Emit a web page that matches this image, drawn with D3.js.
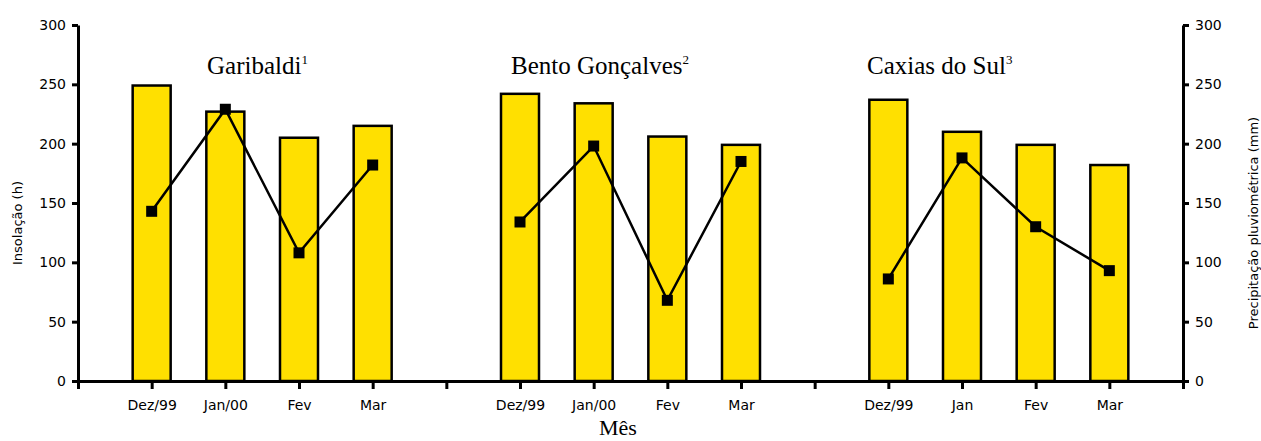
<!DOCTYPE html>
<html lang="pt">
<head>
  <meta charset="UTF-8" />
  <title>Insolação e precipitação</title>
  <script src="https://cdn.jsdelivr.net/npm/d3@7/dist/d3.min.js"></script>
  <style>
    body { margin: 0; background: #fff; }
    .axis text { font-family: "DejaVu Sans", sans-serif; font-size: 14px; fill: #000; }
    .axis path, .axis line { stroke: #000; stroke-width: 3; }
    .title { font-family: "Liberation Serif", serif; font-size: 25px; }
  </style>
</head>
<body>
  <div id="chart"></div>
  <script>
    // data
    var stations = ["Garibaldi", "Bento Gonçalves", "Caxias do Sul"];
    var notes = ["1", "2", "3"];
    var months = [
      ["Dez/99", "Jan/00", "Fev", "Mar"],
      ["Dez/99", "Jan/00", "Fev", "Mar"],
      ["Dez/99", "Jan", "Fev", "Mar"]
    ];
    var insolacao = [
      [249, 227, 205, 215],
      [242, 234, 206, 199],
      [237, 210, 199, 182]
    ];
    var precipitacao = [
      [143, 229, 108, 182],
      [134, 198, 68, 185],
      [86, 188, 130, 93]
    ];
    var yTicks = [0, 50, 100, 150, 200, 250, 300];

    var w = 1261, h = 441;
    var mLeft = 78, mRight = 1183, mTop = 25, mBottom = 381;
    var barW = 38;

    var svg = d3.select("#chart").append("svg")
      .attr("width", w)
      .attr("height", h);

    // 16 slots: a gap slot before each station, then its 4 months
    var x = d3.scaleLinear().domain([0, 15]).range([mLeft, mRight]);
    var yL = d3.scaleLinear().domain([0, 300]).range([mBottom, mTop]);
    var yR = d3.scaleLinear().domain([0, 300]).range([mBottom, mTop]);

    var flat = [];
    stations.forEach(function(s, si) {
      months[si].forEach(function(m, mi) {
        flat.push({
          station: si,
          slot: si * 5 + mi + 1,
          label: m,
          ins: insolacao[si][mi],
          prec: precipitacao[si][mi]
        });
      });
    });
    var labelBySlot = {};
    flat.forEach(function(d) { labelBySlot[d.slot] = d.label; });

    // bars
    svg.append("g").selectAll("rect")
      .data(flat)
      .enter()
      .append("rect")
      .attr("x", function(d) { return x(d.slot) - barW / 2; })
      .attr("y", function(d) { return yL(d.ins); })
      .attr("width", barW)
      .attr("height", function(d) { return yL(0) - yL(d.ins); })
      .attr("fill", "#ffe000")
      .attr("stroke", "#000")
      .attr("stroke-width", 2.5);

    // lines, one per station
    var line = d3.line()
      .x(function(d) { return x(d.slot); })
      .y(function(d) { return yR(d.prec); });

    stations.forEach(function(s, si) {
      var pts = flat.filter(function(d) { return d.station == si; });
      svg.append("path")
        .datum(pts)
        .attr("d", line)
        .attr("fill", "none")
        .attr("stroke", "#000")
        .attr("stroke-width", 2.5);
      svg.append("g").selectAll("rect")
        .data(pts)
        .enter()
        .append("rect")
        .attr("x", function(d) { return x(d.slot) - 5.5; })
        .attr("y", function(d) { return yR(d.prec) - 5.5; })
        .attr("width", 11)
        .attr("height", 11)
        .attr("fill", "#000");
    });

    // axes
    svg.append("g")
      .attr("class", "axis")
      .attr("transform", "translate(0," + mBottom + ")")
      .call(d3.axisBottom(x)
        .tickValues(d3.range(16))
        .tickSize(8)
        .tickSizeOuter(0)
        .tickPadding(11)
        .tickFormat(function(d) { return labelBySlot[d] || ""; }));

    svg.append("g")
      .attr("class", "axis")
      .attr("transform", "translate(" + mLeft + ",0)")
      .call(d3.axisLeft(yL).tickValues(yTicks).tickSize(6).tickSizeOuter(0).tickPadding(6));

    svg.append("g")
      .attr("class", "axis")
      .attr("transform", "translate(" + mRight + ",0)")
      .call(d3.axisRight(yR).tickValues(yTicks).tickSize(6).tickSizeOuter(0).tickPadding(6));

    // station titles
    var titleX = [207, 511, 867];
    stations.forEach(function(s, si) {
      var t = svg.append("text")
        .attr("class", "title")
        .attr("x", titleX[si])
        .attr("y", 74)
        .text(s);
      t.append("tspan")
        .attr("font-size", "13px")
        .attr("dy", -10)
        .text(notes[si]);
    });

    // axis titles
    svg.append("text")
      .attr("transform", "translate(22," + ((mTop + mBottom) / 2 + 20) + ") rotate(-90)")
      .attr("text-anchor", "middle")
      .attr("font-family", "DejaVu Sans, sans-serif")
      .attr("font-size", "13px")
      .text("Insolação (h)");

    svg.append("text")
      .attr("transform", "translate(1258," + ((mTop + mBottom) / 2 + 20) + ") rotate(-90)")
      .attr("text-anchor", "middle")
      .attr("font-family", "DejaVu Sans, sans-serif")
      .attr("font-size", "13px")
      .text("Precipitação pluviométrica (mm)");

    svg.append("text")
      .attr("x", 618)
      .attr("y", 435)
      .attr("text-anchor", "middle")
      .attr("font-family", "Liberation Serif, serif")
      .attr("font-size", "22px")
      .text("Mês");
  </script>
</body>
</html>
